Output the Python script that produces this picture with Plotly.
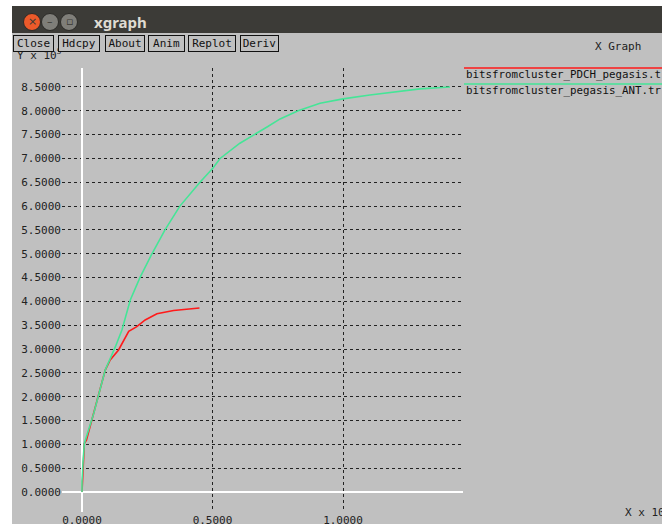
import plotly.graph_objects as go

# ---- data (x in units of 10^?, y in units of 10^5) ----
pdch_x = [0, 0.004, 0.009, 0.017, 0.045, 0.064, 0.089, 0.108, 0.140, 0.179, 0.210, 0.242, 0.287, 0.351, 0.402, 0.450]
pdch_y = [0, 0.64, 1.02, 1.09, 1.65, 2.00, 2.56, 2.77, 2.98, 3.37, 3.47, 3.61, 3.74, 3.81, 3.84, 3.86]

ant_x = [0, 0, 0.004, 0.009, 0.045, 0.089, 0.128, 0.153, 0.185, 0.222, 0.268, 0.318, 0.375, 0.452,
         0.502, 0.529, 0.605, 0.663, 0.709, 0.759, 0.828, 0.912, 1.000, 1.103, 1.192, 1.295, 1.410]
ant_y = [0, 0.22, 0.64, 1.02, 1.65, 2.56, 3.05, 3.40, 4.03, 4.50, 5.00, 5.50, 6.00, 6.50,
         6.80, 7.00, 7.32, 7.50, 7.66, 7.83, 8.00, 8.16, 8.25, 8.33, 8.39, 8.46, 8.50]

series_names = ["bitsfromcluster_PDCH_pegasis.t", "bitsfromcluster_pegasis_ANT.tr"]
series_colors = ["#ff1a1a", "#45e597"]
buttons = ["Close", "Hdcpy", "About", "Anim", "Replot", "Deriv"]

W, H = 662, 524
L, R, T, B = 62, 463, 68, 512
GRAY = "#c0c0c0"
MONO = "DejaVu Sans Mono"


def px(x):
    return (x - L) / (R - L)


def py(y):
    return (B - y) / (B - T)


fig = go.Figure()
fig.add_trace(go.Scatter(x=pdch_x, y=pdch_y, mode="lines",
                         line=dict(color=series_colors[0], width=1.6), name=series_names[0]))
fig.add_trace(go.Scatter(x=ant_x, y=ant_y, mode="lines",
                         line=dict(color=series_colors[1], width=1.6), name=series_names[1]))

shapes = []
# white strips (window edges)
shapes.append(dict(type="rect", xref="paper", yref="paper", x0=px(0), x1=px(12), y0=py(H), y1=py(0),
                   fillcolor="white", line=dict(width=0), layer="below"))
shapes.append(dict(type="rect", xref="paper", yref="paper", x0=px(0), x1=px(W), y0=py(6), y1=py(0),
                   fillcolor="white", line=dict(width=0), layer="below"))
# title bar
shapes.append(dict(type="rect", xref="paper", yref="paper", x0=px(12), x1=px(W), y0=py(33), y1=py(6),
                   fillcolor="#3c3b37", line=dict(width=0), layer="below"))
# window control circles
for cx, col in [(32, "#ec5a2a"), (50, "#7f7e79"), (69, "#7f7e79")]:
    r = 8.5
    shapes.append(dict(type="circle", xref="paper", yref="paper", x0=px(cx - r), x1=px(cx + r),
                       y0=py(22 + r), y1=py(22 - r), fillcolor=col, line=dict(color="#2c2b28", width=1),
                       layer="below"))
# legend lines
shapes.append(dict(type="line", xref="paper", yref="paper", x0=px(464), x1=px(W), y0=py(68), y1=py(68),
                   line=dict(color=series_colors[0], width=1.5)))
shapes.append(dict(type="line", xref="paper", yref="paper", x0=px(464), x1=px(W), y0=py(84), y1=py(84),
                   line=dict(color=series_colors[1], width=1.5)))

ann = []
ann.append(dict(text="<b>xgraph</b>", x=px(92), y=py(22), xref="paper", yref="paper", xanchor="left",
                yanchor="middle", showarrow=False, font=dict(family="Noto Sans", size=15, color="#dfdbd2")))
for cx, g in [(32, "×"), (50, "–"), (69, "▫")]:
    ann.append(dict(text=g, x=px(cx), y=py(22), xref="paper", yref="paper", xanchor="center",
                    yanchor="middle", showarrow=False, font=dict(family="DejaVu Sans", size=11, color="#3a3935")))
ann.append(dict(text="Y x 10<sup>5</sup>", x=px(15), y=py(55), xref="paper", yref="paper", xanchor="left",
                yanchor="middle", showarrow=False, font=dict(family=MONO, size=11, color="#222")))
# buttons
bx = [(13, 54), (58, 100), (105, 145), (148, 185), (188, 236), (240, 279)]
for name, (x0, x1) in zip(buttons, bx):
    ann.append(dict(text=name, x=px((x0 + x1) / 2), y=py(43), xref="paper", yref="paper",
                    xanchor="center", yanchor="middle", showarrow=False, width=x1 - x0 - 2, height=15,
                    bgcolor=GRAY, bordercolor="#111", borderwidth=1, borderpad=0,
                    font=dict(family=MONO, size=11, color="#111")))
ann.append(dict(text="X Graph", x=px(593), y=py(47), xref="paper", yref="paper", xanchor="left",
                yanchor="middle", showarrow=False, font=dict(family=MONO, size=11, color="#222")))
ann.append(dict(text=series_names[0], x=px(464), y=py(75), xref="paper", yref="paper", xanchor="left",
                yanchor="middle", showarrow=False, font=dict(family=MONO, size=10.8, color="#111")))
ann.append(dict(text=series_names[1], x=px(464), y=py(90), xref="paper", yref="paper", xanchor="left",
                yanchor="middle", showarrow=False, font=dict(family=MONO, size=10.8, color="#111")))
ann.append(dict(text="X x 10", x=px(623), y=py(512), xref="paper", yref="paper", xanchor="left",
                yanchor="middle", showarrow=False, font=dict(family=MONO, size=11, color="#222")))

x_lo = (L - 82) / 261.0
x_hi = (R - 82) / 261.0
y_lo = (492 - B) / 47.65
y_hi = (492 - T) / 47.65

fig.update_layout(
    width=W, height=H,
    margin=dict(l=L, r=W - R, t=T, b=H - B, pad=0, autoexpand=False),
    paper_bgcolor=GRAY, plot_bgcolor=GRAY,
    showlegend=False,
    shapes=shapes, annotations=ann,
    xaxis=dict(range=[x_lo, x_hi], tickmode="array", tickvals=[0, 0.5, 1.0], tickformat=".4f",
               showgrid=True, gridcolor="#222", griddash="dot", gridwidth=1, automargin=False,
               zeroline=True, zerolinecolor="white", zerolinewidth=2, showline=False, ticks="",
               tickfont=dict(family=MONO, size=11, color="#222")),
    yaxis=dict(range=[y_lo, y_hi], tickmode="linear", tick0=0, dtick=0.5, tickformat=".4f",
               showgrid=True, gridcolor="#222", griddash="dot", gridwidth=1, automargin=False,
               zeroline=True, zerolinecolor="white", zerolinewidth=2, showline=False, ticks="",
               tickfont=dict(family=MONO, size=11, color="#222")),
)

fig.write_html("out.html", config={"displayModeBar": False},
               post_script="document.body.style.margin='0';document.body.style.overflow='hidden';")
